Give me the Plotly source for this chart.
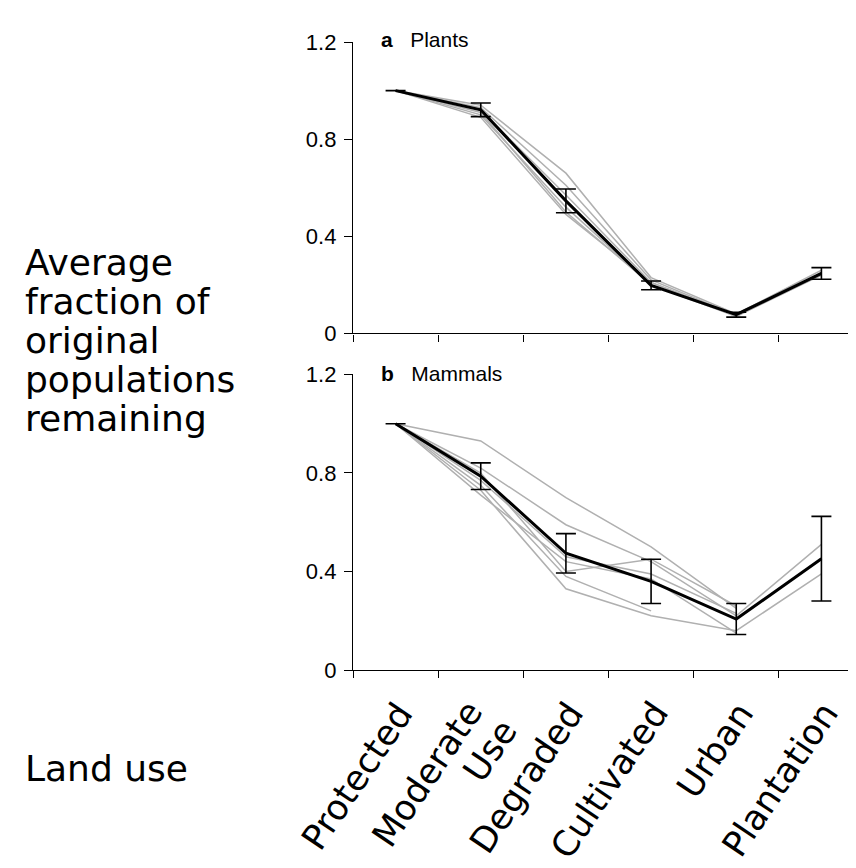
import plotly.graph_objects as go

# ---------------- data ----------------
categories = ["Protected", "Moderate Use", "Degraded", "Cultivated", "Urban", "Plantation"]
tick_labels = ["Protected", "Moderate", "Degraded", "Cultivated", "Urban", "Plantation"]
tick_label_extra = "Use"   # second line of "Moderate Use"

plants_mean = [1.0, 0.921, 0.546, 0.198, 0.077, 0.247]
plants_err = [0.0, 0.028, 0.049, 0.018, 0.010, 0.024]
plants_studies = [
    [1.0, 0.94, 0.66, 0.23, 0.080, 0.26],
    [1.0, 0.93, 0.61, 0.22, 0.075, 0.25],
    [1.0, 0.92, 0.57, 0.21, 0.070, 0.25],
    [1.0, 0.90, 0.52, 0.20, 0.080, 0.24],
    [1.0, 0.89, 0.49, 0.21, 0.075, 0.245],
    [1.0, 0.91, 0.50, 0.20, 0.070, 0.24],
]

mammals_mean = [1.0, 0.787, 0.474, 0.360, 0.207, 0.452]
mammals_err = [0.0, 0.054, 0.080, 0.090, 0.063, 0.172]
mammals_studies = [
    [1.0, 0.93, 0.70, 0.50, 0.25, None],
    [1.0, 0.82, 0.59, 0.44, 0.22, 0.51],
    [1.0, 0.80, 0.40, 0.45, 0.26, None],
    [1.0, 0.77, 0.46, 0.39, 0.23, None],
    [1.0, 0.75, 0.38, 0.24, None, None],
    [1.0, 0.73, 0.33, 0.22, 0.16, 0.39],
    [1.0, 0.71, 0.44, 0.37, 0.15, None],
]

y_ticks = [0, 0.4, 0.8, 1.2]
y_tick_labels = ["0", "0.4", "0.8", "1.2"]

panel_titles = ["<b>a</b>   Plants", "<b>b</b>   Mammals"]
ylabel_lines = ["Average", "fraction of", "original", "populations", "remaining"]
xlabel_text = "Land use"

# ---------------- figure ----------------
W, H = 856, 868
GREY = "#b0b0b0"
LABEL_FONT = dict(family="DejaVu Sans", size=35, color="black")
fig = go.Figure()

panels = [
    (plants_studies, plants_mean, plants_err, "x", "y"),
    (mammals_studies, mammals_mean, mammals_err, "x2", "y2"),
]
for studies, mean, err, xa, ya in panels:
    for s in studies:
        fig.add_trace(go.Scatter(
            x=categories, y=s, mode="lines", xaxis=xa, yaxis=ya,
            line=dict(color=GREY, width=1.5), connectgaps=False,
            showlegend=False, hoverinfo="skip"))
    fig.add_trace(go.Scatter(
        x=categories, y=mean, mode="lines", xaxis=xa, yaxis=ya,
        line=dict(color="black", width=3),
        error_y=dict(type="data", array=err, visible=True,
                     color="black", thickness=1.6, width=10),
        showlegend=False))

x0 = 345 / W
top_dom = [(H - 322.7) / H, (H - 22.7) / H]
bot_dom = [(H - 669.3) / H, (H - 365) / H]

xcommon = dict(type="category", categoryorder="array", categoryarray=categories,
               range=[-0.5, 5.5], tickson="boundaries", ticks="outside",
               ticklen=7, tickwidth=1.3, tickcolor="black",
               showline=True, linecolor="black", linewidth=1.3,
               showgrid=False, zeroline=False, domain=[x0, 1],
               showticklabels=False)
ycommon = dict(range=[0, 1.2], tickvals=y_ticks, ticktext=y_tick_labels,
               ticks="outside", ticklen=8, tickwidth=1.3, tickcolor="black",
               showline=True, linecolor="black", linewidth=1.3,
               showgrid=False, zeroline=False, ticklabelstandoff=3,
               tickfont=dict(family="Liberation Sans, Arial", size=22, color="black"))

fig.update_layout(
    width=W, height=H, autosize=False,
    margin=dict(l=0, r=0, t=0, b=0),
    paper_bgcolor="white", plot_bgcolor="white",
    xaxis=dict(xcommon, anchor="y"),
    yaxis=dict(ycommon, anchor="x", domain=top_dom),
    xaxis2=dict(xcommon, anchor="y2"),
    yaxis2=dict(ycommon, anchor="x2", domain=bot_dom),
)

# rotated category labels of the lower axis (placed at each category)
label_shift = [28, 12, 28, 28, 28, 28]      # px, right edge of rotated box vs category centre
label_top = [692, 691, 692, 692, 692, 692]  # px from top of figure
for cat, txt, dx, ty in zip(categories, tick_labels, label_shift, label_top):
    fig.add_annotation(text=txt, xref="x2", yref="paper", x=cat, y=(H - ty) / H,
                       xanchor="right", yanchor="top", xshift=dx,
                       textangle=-56, showarrow=False, font=LABEL_FONT)
# second line of "Moderate Use"
fig.add_annotation(text=tick_label_extra, xref="x2", yref="paper", x=categories[1],
                   y=(H - 711) / H, xanchor="right", yanchor="top", xshift=47,
                   textangle=-56, showarrow=False, font=LABEL_FONT)

# panel titles
for txt, ypx in zip(panel_titles, [20, 364]):
    fig.add_annotation(text=txt, xref="paper", yref="paper",
                       x=371 / W, y=(H - ypx) / H, xanchor="left", yanchor="middle",
                       showarrow=False,
                       font=dict(family="Liberation Sans, Arial", size=21, color="black"))

# left y-label, one line per annotation
for i, line in enumerate(ylabel_lines):
    cy = 250 + 40 * i
    fig.add_annotation(text=line, xref="paper", yref="paper",
                       x=15 / W, y=(H - cy) / H, xanchor="left", yanchor="middle",
                       showarrow=False,
                       font=dict(family="DejaVu Sans", size=36, color="black"))

fig.add_annotation(text=xlabel_text, xref="paper", yref="paper",
                   x=15 / W, y=(H - 771) / H, xanchor="left", yanchor="middle",
                   showarrow=False,
                   font=dict(family="DejaVu Sans", size=36, color="black"))

fig.write_html("out.html")
